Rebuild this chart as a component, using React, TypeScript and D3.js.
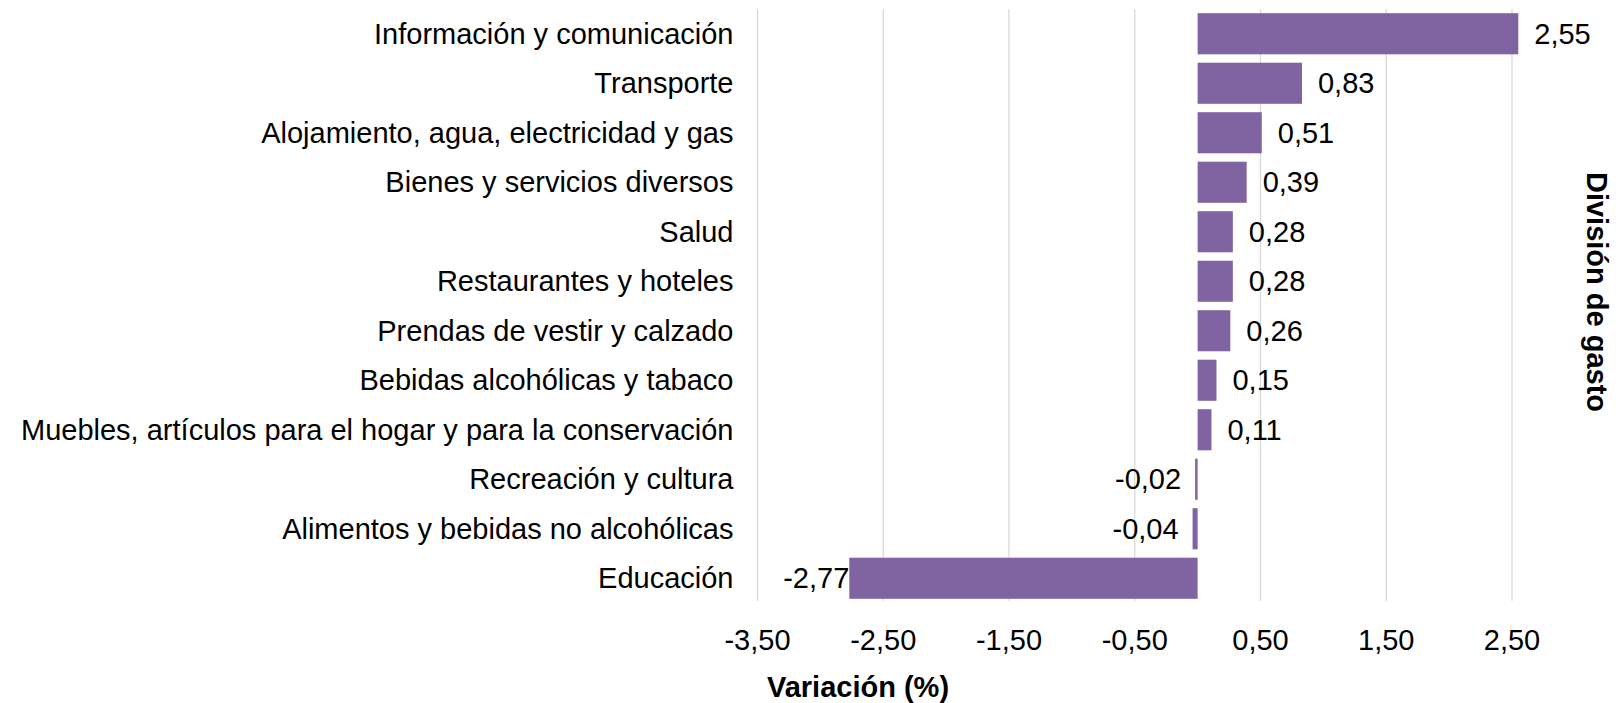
import { useEffect, useRef } from "react";
import * as d3 from "d3";

const categories = [
  "Información y comunicación",
  "Transporte",
  "Alojamiento, agua, electricidad y gas",
  "Bienes y servicios diversos",
  "Salud",
  "Restaurantes y hoteles",
  "Prendas de vestir y calzado",
  "Bebidas alcohólicas y tabaco",
  "Muebles, artículos para el hogar y para la conservación",
  "Recreación y cultura",
  "Alimentos y bebidas no alcohólicas",
  "Educación",
];
const values = [2.55, 0.83, 0.51, 0.39, 0.28, 0.28, 0.26, 0.15, 0.11, -0.02, -0.04, -2.77];
const xTicks = [-3.5, -2.5, -1.5, -0.5, 0.5, 1.5, 2.5];

const WIDTH = 1616;
const HEIGHT = 703;
const FONT = "'Liberation Sans', Arial, sans-serif";
const FS = 29;
const fmt = (v: number) => v.toFixed(2).replace(".", ",");

const App = () => {
  const svgRef = useRef<SVGSVGElement>(null);

  useEffect(() => {
    const svg = d3.select(svgRef.current);
    svg.selectAll("*").remove();

    const left = 757.5;
    const right = 1512;
    const top = 9;
    const bottom = 603;

    const x = d3.scaleLinear().domain([-3.5, 2.5]).range([left, right]);
    const y = d3
      .scaleBand<string>()
      .domain(categories)
      .range([top, bottom])
      .paddingInner(0.17)
      .paddingOuter(0.085);

    // gridlines
    svg
      .append("g")
      .selectAll("line")
      .data(xTicks)
      .join("line")
      .attr("x1", (d) => x(d))
      .attr("x2", (d) => x(d))
      .attr("y1", top)
      .attr("y2", bottom - 2)
      .attr("stroke", "#d9d9d9")
      .attr("stroke-width", 1.3);

    // bars
    const data = categories.map((c, i) => ({ c, v: values[i] }));
    svg
      .append("g")
      .selectAll("rect")
      .data(data)
      .join("rect")
      .attr("x", (d) => Math.min(x(0), x(d.v)))
      .attr("y", (d) => y(d.c)!)
      .attr("width", (d) => Math.abs(x(d.v) - x(0)))
      .attr("height", y.bandwidth())
      .attr("fill", "#8064a2");

    // value labels
    svg
      .append("g")
      .selectAll("text")
      .data(data)
      .join("text")
      .attr("x", (d) => (d.v >= 0 ? x(d.v) + 16 : x(d.v) - (d.v < -1 ? 0 : 14)))
      .attr("y", (d) => y(d.c)! + y.bandwidth() / 2)
      .attr("dy", "0.35em")
      .attr("text-anchor", (d) => (d.v >= 0 ? "start" : "end"))
      .attr("font-family", FONT)
      .attr("font-size", FS)
      .attr("fill", "#000")
      .text((d) => fmt(d.v));

    // category labels
    svg
      .append("g")
      .selectAll("text")
      .data(categories)
      .join("text")
      .attr("x", left - 24)
      .attr("y", (d) => y(d)! + y.bandwidth() / 2)
      .attr("dy", "0.35em")
      .attr("text-anchor", "end")
      .attr("font-family", FONT)
      .attr("font-size", FS)
      .attr("fill", "#000")
      .text((d) => d);

    // x tick labels
    svg
      .append("g")
      .selectAll("text")
      .data(xTicks)
      .join("text")
      .attr("x", (d) => x(d))
      .attr("y", 640)
      .attr("dy", "0.35em")
      .attr("text-anchor", "middle")
      .attr("font-family", FONT)
      .attr("font-size", FS)
      .attr("fill", "#000")
      .text((d) => fmt(d));

    // axis titles
    svg
      .append("text")
      .attr("x", 858)
      .attr("y", 687)
      .attr("dy", "0.35em")
      .attr("text-anchor", "middle")
      .attr("font-family", FONT)
      .attr("font-size", FS)
      .attr("font-weight", "bold")
      .attr("fill", "#000")
      .text("Variación (%)");

    svg
      .append("text")
      .attr("transform", `translate(1597,292) rotate(90)`)
      .attr("dy", "0.35em")
      .attr("text-anchor", "middle")
      .attr("font-family", FONT)
      .attr("font-size", FS)
      .attr("font-weight", "bold")
      .attr("fill", "#000")
      .text("División de gasto");
  }, []);

  return (
    <div style={{ position: "absolute", left: 0, top: 0, background: "#fff" }}>
      <svg ref={svgRef} width={WIDTH} height={HEIGHT} style={{ display: "block" }} />
    </div>
  );
};

export default App;
